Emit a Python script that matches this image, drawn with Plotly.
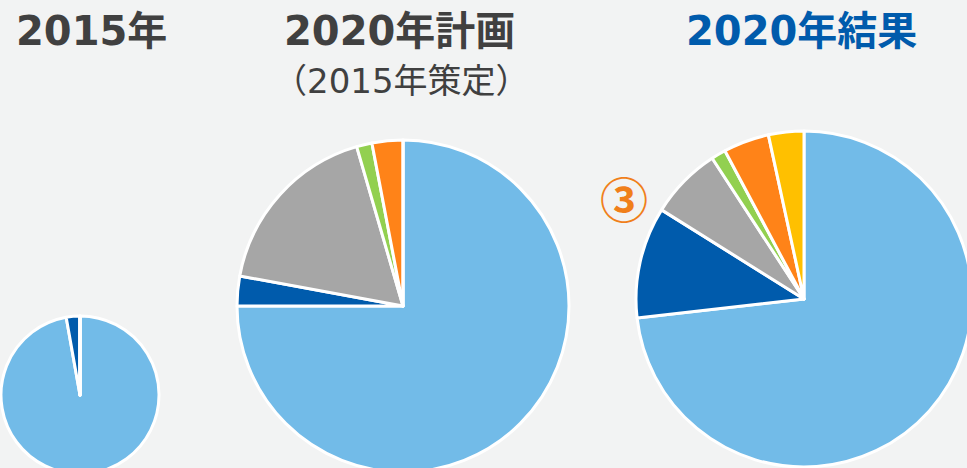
import plotly.graph_objects as go

W, H = 1000, 500

categories = ["A", "B", "C", "D", "E", "F"]
colors = ["#72BBE8", "#005BAC", "#A6A6A6", "#92D050", "#FF8318", "#FFC000"]

values_2015 = [97.2, 2.8, 0, 0, 0, 0]
values_2020_plan = [75.0, 2.9, 17.6, 1.5, 3.0, 0]
values_2020_result = [73.2, 10.7, 6.9, 1.4, 4.4, 3.4]

titles = ["2015年", "2020年計画", "2020年結果"]
subtitle = "（2015年策定）"
marker_label = "③"

def px_domain(cx, cy, r):
    return dict(x=[(cx - r) / W, (cx + r) / W], y=[1 - (cy + r) / H, 1 - (cy - r) / H])

fig = go.Figure()
for vals, dom in [
    (values_2015, px_domain(80, 395, 79)),
    (values_2020_plan, px_domain(403, 306, 166)),
    (values_2020_result, px_domain(804, 299, 168)),
]:
    fig.add_trace(go.Pie(
        labels=categories, values=vals, sort=False, direction="clockwise", rotation=0,
        marker=dict(colors=colors, line=dict(color="white", width=3)),
        textinfo="none", hoverinfo="skip", domain=dom, showlegend=False,
    ))

title_font = "DejaVu Sans, Noto Sans CJK JP"
def ann(text, cx, cy, size, color, bold=True):
    fig.add_annotation(
        text=f"<b>{text}</b>" if bold else text, x=cx / W, y=1 - cy / H, xref="paper", yref="paper",
        xanchor="center", yanchor="middle", showarrow=False,
        font=dict(family=title_font, size=size, color=color),
    )

ann(titles[0], 91, 31, 40, "#404040")
ann(titles[1], 399, 31, 40, "#404040")
ann(titles[2], 801, 31, 40, "#005BAC")
ann(subtitle, 401, 81, 34, "#404040", bold=False)
fig.add_annotation(
    text=f"<b>{marker_label}</b>", x=624 / W, y=1 - 197 / H, xref="paper", yref="paper",
    xanchor="center", yanchor="middle", showarrow=False,
    font=dict(family="Noto Sans CJK JP", size=48, color="#F07F1A"),
)

fig.update_layout(
    width=W, height=H, margin=dict(l=0, r=0, t=0, b=0),
    paper_bgcolor="#F2F3F3", plot_bgcolor="#F2F3F3",
)

fig.write_html(
    "out.html",
    config={"displayModeBar": False},
    post_script="document.body.style.margin='0';document.body.style.overflow='hidden';document.documentElement.style.overflow='hidden';",
)
